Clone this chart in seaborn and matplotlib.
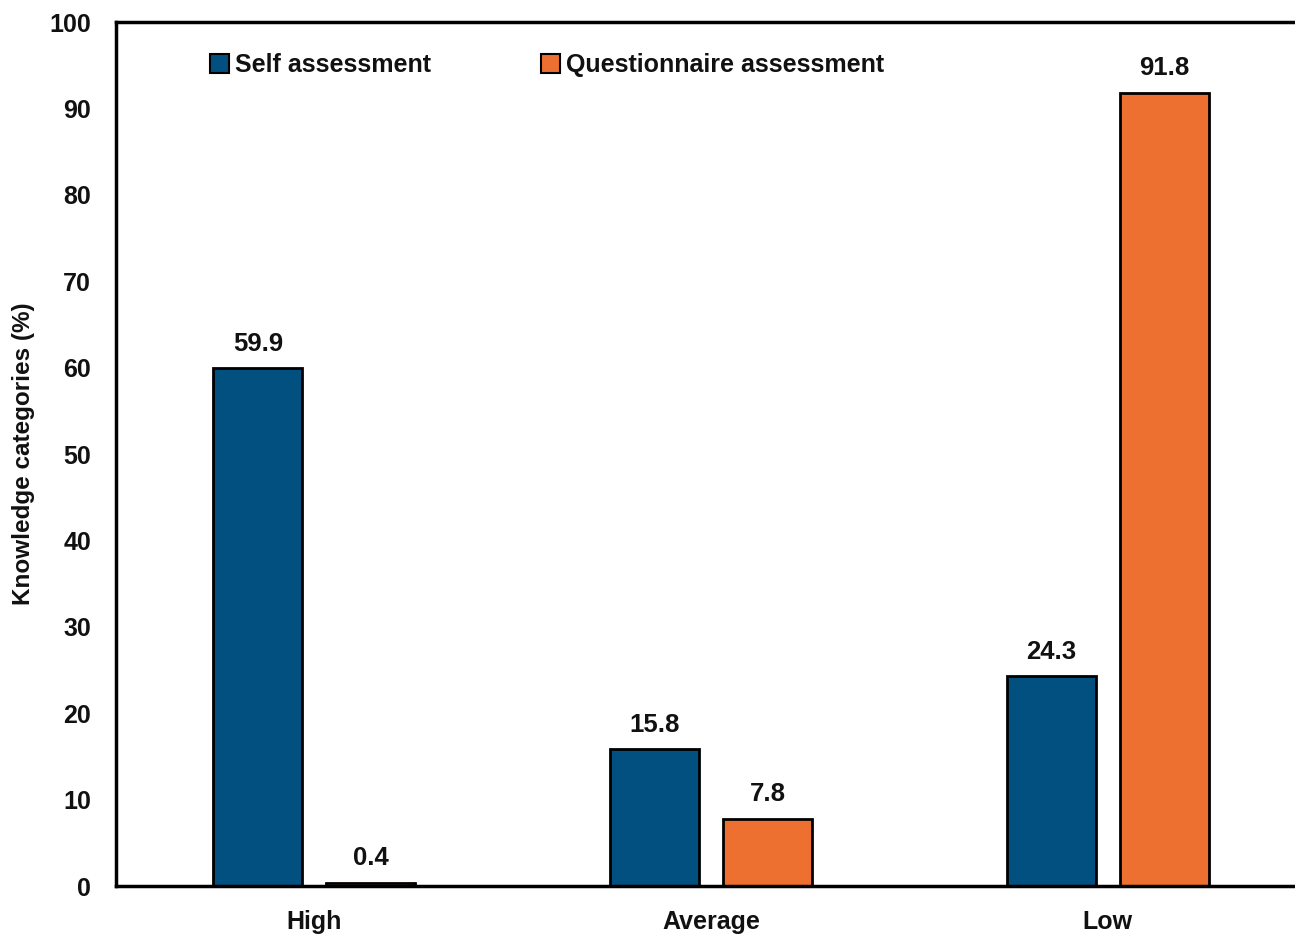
import matplotlib
matplotlib.use("Agg")
import matplotlib.pyplot as plt
import seaborn as sns
import pandas as pd

categories = ["High", "Average", "Low"]
series_names = ["Self assessment", "Questionnaire assessment"]
self_values = [59.9, 15.8, 24.3]
quest_values = [0.4, 7.8, 91.8]
colors = ["#02507F", "#EE7030"]

df = pd.DataFrame({
    "Category": categories * 2,
    "Series": [series_names[0]] * 3 + [series_names[1]] * 3,
    "Value": self_values + quest_values,
})

sns.set_theme(style="white")
font_list = ["Liberation Sans Narrow", "Liberation Sans", "DejaVu Sans"]
plt.rcParams["font.family"] = font_list
plt.rcParams["font.weight"] = "bold"

fig = plt.figure(figsize=(12.95, 9.34), dpi=100)
W, H = 1295, 934
ax = fig.add_axes([116 / W, (H - 886) / H, (1306 - 116) / W, (886 - 22) / H])

sns.barplot(data=df, x="Category", y="Value", hue="Series", order=categories,
            hue_order=series_names, palette=colors, width=0.569, gap=0.21,
            edgecolor="black", linewidth=2, saturation=1, ax=ax, errorbar=None)

for cont in ax.containers:
    ax.bar_label(cont, labels=[f"{v:.1f}" for v in cont.datavalues], padding=9,
                 fontsize=18.5, fontweight="bold", color="#111111")

ax.set_xlim(-0.5, 2.5)
ax.set_ylim(0, 100)
ax.set_yticks(range(0, 101, 10))
ax.tick_params(axis="both", length=0, labelsize=18, colors="#111111")
ax.tick_params(axis="y", pad=18)
ax.tick_params(axis="x", pad=17)
for lab in ax.get_xticklabels() + ax.get_yticklabels():
    lab.set_fontweight("bold")
ax.set_xlabel("")
ax.set_ylabel("Knowledge categories (%)", fontsize=17.5, fontweight="bold", color="#111111", labelpad=10)
for s in ax.spines.values():
    s.set_visible(True)
    s.set_color("black")
    s.set_linewidth(2.5)

handles, labels = ax.get_legend_handles_labels()
leg = ax.legend(handles, labels, ncol=2, frameon=False, loc="upper left",
                bbox_to_anchor=(0.06, 0.99), handlelength=0.75,
                handleheight=0.75, handletextpad=0.25, columnspacing=4.4,
                prop={"weight": "bold", "size": 18})
for t in leg.get_texts():
    t.set_color("#111111")
for h in leg.legend_handles:
    h.set_edgecolor("black")
    h.set_linewidth(1.5)

fig.savefig("out.png", dpi=100)
